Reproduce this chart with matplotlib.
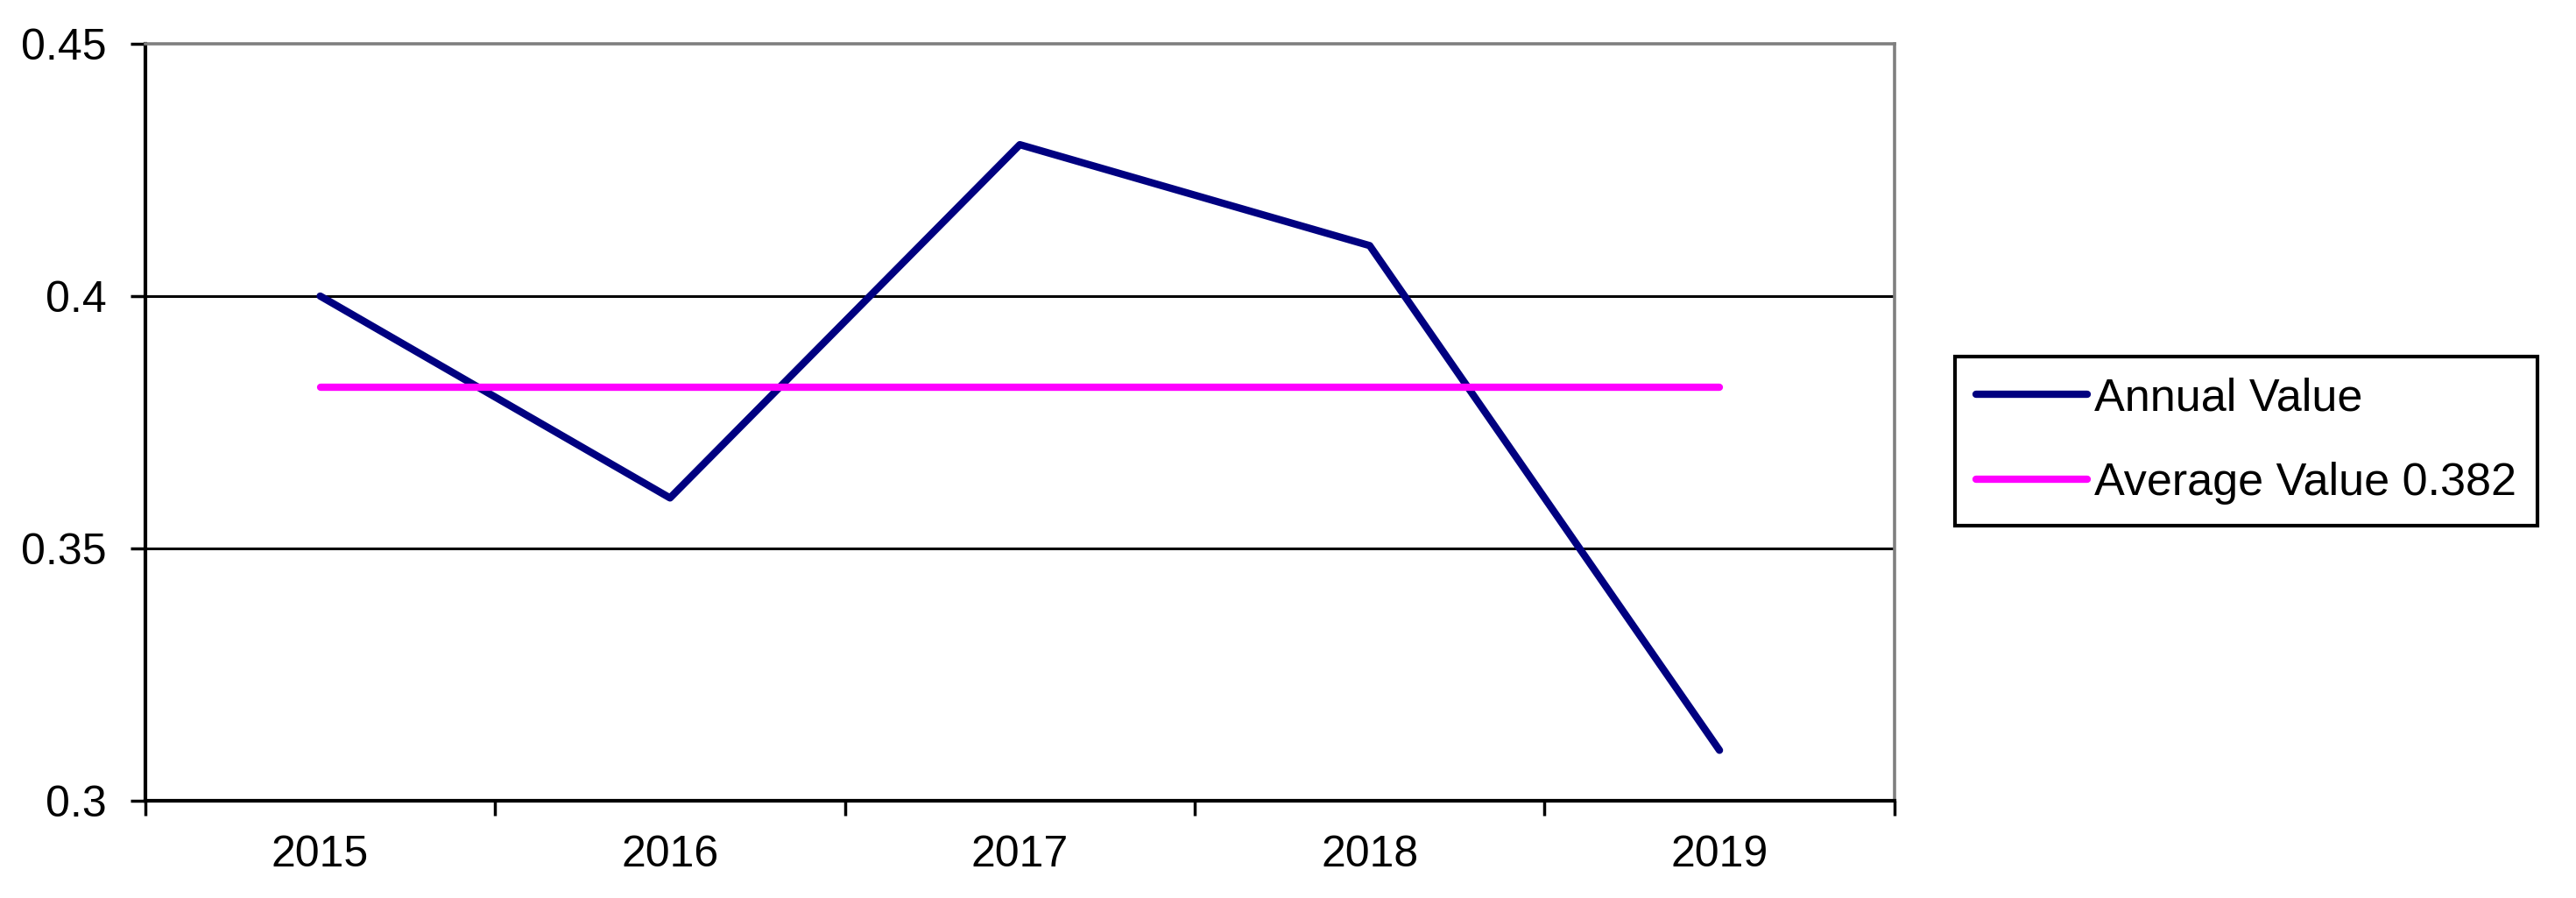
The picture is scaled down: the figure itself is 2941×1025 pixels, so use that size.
import numpy as np
import matplotlib
matplotlib.use('Agg')
import matplotlib.pyplot as plt

years = ['2015', '2016', '2017', '2018', '2019']
annual_value = [0.40, 0.36, 0.43, 0.41, 0.31]
average_value = 0.382
y_ticks = [0.3, 0.35, 0.4, 0.45]
y_tick_labels = ['0.3', '0.35', '0.4', '0.45']

plt.rcParams['font.family'] = ['Liberation Sans', 'DejaVu Sans']

fig = plt.figure(figsize=(29.41, 10.25), dpi=100)
ax = fig.add_axes([0.0564, 0.1083, 0.679, 0.843])

x = np.arange(len(years))
ax.plot(x, annual_value, color='#000080', lw=6, solid_capstyle='round',
        label='Annual Value', zorder=3)
ax.plot(x, [average_value] * len(years), color='#ff00ff', lw=6,
        solid_capstyle='round', label='Average Value %.3f' % average_value, zorder=3)

ax.set_xlim(-0.5, len(years) - 0.5)
ax.set_ylim(0.3, 0.45)

# category labels between tick marks, like a spreadsheet chart
ax.set_xticks(np.arange(-0.5, len(years), 1.0))
ax.set_xticklabels([])
ax.set_xticks(x, minor=True)
ax.set_xticklabels(years, minor=True, fontsize=36)
ax.tick_params(axis='x', which='major', direction='out', length=12, width=2.5, color='black')
ax.tick_params(axis='x', which='minor', length=0, pad=28)

ax.set_yticks(y_ticks)
ax.set_yticklabels(y_tick_labels, fontsize=36)
ax.tick_params(axis='y', direction='out', length=12, width=2.5, color='black', pad=20)

for v in y_ticks[1:3]:
    ax.axhline(v, color='black', lw=2.2, zorder=1)

for side in ['left', 'bottom']:
    ax.spines[side].set_color('black')
    ax.spines[side].set_linewidth(3)
for side in ['top', 'right']:
    ax.spines[side].set_color('#7f7f7f')
    ax.spines[side].set_linewidth(2.6)

leg = fig.legend(loc='center left', bbox_to_anchor=(0.759, 0.509), fontsize=37.5,
                 frameon=True, fancybox=False, edgecolor='black', framealpha=1,
                 handlelength=2.45, handletextpad=0.15, labelspacing=0.93,
                 borderpad=0.45, borderaxespad=0)
leg.get_frame().set_linewidth(3)

fig.savefig('out.png', dpi=100, facecolor='white')
plt.close(fig)
